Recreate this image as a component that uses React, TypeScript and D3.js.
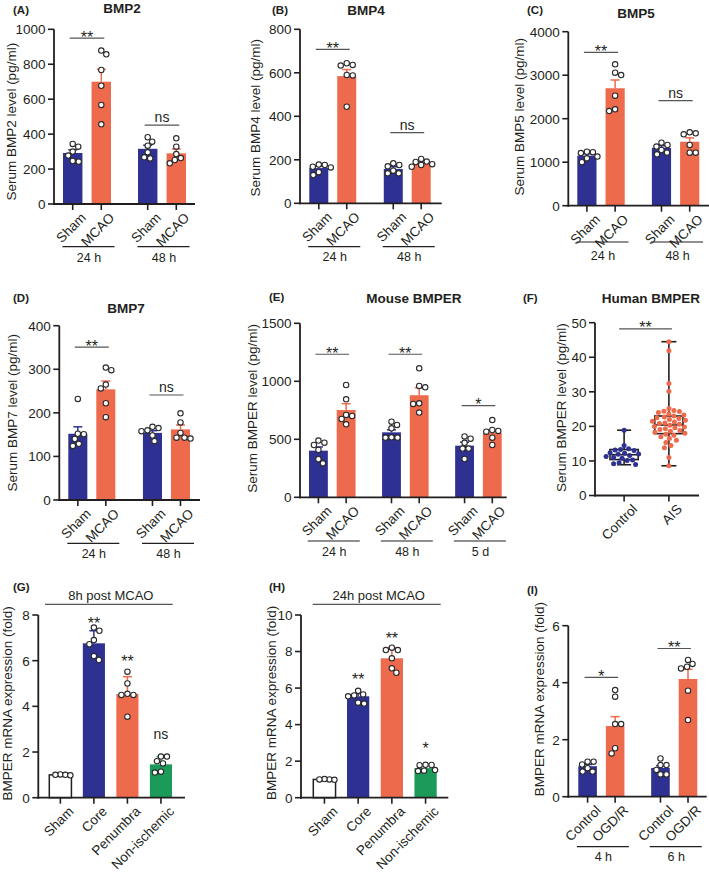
import React from "react";
import * as d3 from "d3";

const FONT = "'Liberation Sans', Arial, Helvetica, sans-serif";
const INK = "#231f20";
const BLUE = "#2e3192";
const ORANGE = "#ee6a4c";
const GREEN = "#1b9a5a";

// (A) BMP2 – Sham / MCAO at 24 h and 48 h
const bmp2Groups = ["24 h", "48 h"];
const bmp2Means = [292, 700, 316, 290];
const bmp2Err = [18, 71, 20, 25];
const bmp2Points = [
  [328, 344, 277, 242, 246, 300],
  [857, 878, 767, 677, 567, 456],
  [357, 382, 261, 296, 334, 267],
  [286, 376, 328, 233, 263, 252],
];
const bmp2Ticks = [0, 200, 400, 600, 800, 1000];
const bmp2Sig = [
  { from: 0, to: 1, y: 950, text: "**" },
  { from: 2, to: 3, y: 452, text: "ns" },
];

// (B) BMP4
const bmp4Groups = ["24 h", "48 h"];
const bmp4Means = [162, 585, 158, 182];
const bmp4Err = [9, 30, 10, 6];
const bmp4Points = [
  [130, 178, 176, 165, 143, 168],
  [644, 633, 636, 590, 588, 444],
  [138, 184, 176, 170, 150, 138],
  [176, 192, 190, 204, 168, 180],
];
const bmp4Ticks = [0, 200, 400, 600, 800];
const bmp4Sig = [
  { from: 0, to: 1, y: 708, text: "**" },
  { from: 2, to: 3, y: 325, text: "ns" },
];

// (C) BMP5
const bmp5Groups = ["24 h", "48 h"];
const bmp5Means = [1150, 2700, 1330, 1470];
const bmp5Err = [45, 190, 50, 90];
const bmp5Points = [
  [1240, 1230, 1210, 1000, 1130, 1090],
  [3057, 3249, 3004, 2529, 2176, 2215],
  [1395, 1448, 1360, 1180, 1280, 1220],
  [1686, 1640, 1663, 1395, 1218, 1218],
];
const bmp5Ticks = [0, 1000, 2000, 3000, 4000];
const bmp5Sig = [
  { from: 0, to: 1, y: 3526, text: "**" },
  { from: 2, to: 3, y: 2414, text: "ns" },
];

// (D) BMP7
const bmp7Groups = ["24 h", "48 h"];
const bmp7Means = [152, 254, 154, 162];
const bmp7Err = [16, 19, 5, 10];
const bmp7Points = [
  [232, 152, 140, 151, 124, 129],
  [298, 304, 265, 256, 222, 190],
  [165, 168, 160, 135, 148, 158],
  [199, 178, 141, 143, 143, 154],
];
const bmp7Ticks = [0, 100, 200, 300, 400];
const bmp7Sig = [
  { from: 0, to: 1, y: 351, text: "**" },
  { from: 2, to: 3, y: 241, text: "ns" },
];

// (E) Mouse BMPER
const mouseGroups = ["24 h", "48 h", "5 d"];
const mouseMeans = [402, 752, 560, 880, 445, 555];
const mouseErr = [32, 55, 22, 65, 30, 25];
const mousePoints = [
  [489, 451, 471, 408, 293, 328],
  [968, 845, 710, 701, 675, 629],
  [624, 595, 652, 517, 514, 514],
  [1112, 960, 948, 805, 810, 730],
  [505, 525, 470, 420, 330, 420],
  [666, 580, 572, 566, 514, 451],
];
const mouseTicks = [0, 500, 1000, 1500];
const mouseSig = [
  { from: 0, to: 1, y: 1233, text: "**" },
  { from: 2, to: 3, y: 1233, text: "**" },
  { from: 4, to: 5, y: 790, text: "*" },
];

// (F) Human BMPER – box plots
const humanCats = ["Control", "AIS"];
const controlPoints = [18.9, 14.5, 13.5, 13.3, 13.2, 13.0, 12.4, 12.2, 12.0, 11.9, 11.6, 11.3, 11.0, 10.8, 10.3, 10.1, 9.5, 9.2, 9.0];
const aisPoints = [
  44.5, 41.9, 32.4, 30.2, 25.2, 24.6, 24.4, 24.3, 24.0, 23.6, 23.3, 23.0, 22.7, 22.5,
  22.3, 22.0, 21.8, 21.5, 21.3, 21.0, 20.8, 20.6, 20.3, 20.0, 19.8, 19.6, 19.3, 19.1,
  18.8, 18.6, 18.3, 18.0, 17.7, 17.4, 17.0, 16.5, 16.0, 15.3, 14.5, 13.8, 11.0, 8.6,
];
const controlBox = { min: 8.9, q1: 10.4, med: 11.8, q3: 13.3, max: 18.9 };
const aisBox = { min: 8.6, q1: 17.9, med: 20.4, q3: 23.0, max: 44.5 };
const humanTicks = [0, 10, 20, 30, 40, 50];

// (G) 8h post MCAO
const regionCats = ["Sham", "Core", "Penumbra", "Non-ischemic"];
const g8Means = [1.0, 6.76, 4.54, 1.46];
const g8Err = [0.02, 0.55, 0.76, 0.34];
const g8Points = [
  [1.02, 1.0, 0.98, 1.0],
  [7.31, 7.45, 6.72, 6.9, 6.03, 6.2],
  [5.52, 5.0, 4.5, 4.5, 4.55, 3.55],
  [1.8, 1.8, 1.6, 1.5, 1.1, 1.14],
];
const g8Ticks = [0, 2, 4, 6, 8];
const g8Marks = [
  { bar: 1, y: 7.38, text: "**" },
  { bar: 2, y: 5.72, text: "**" },
  { bar: 3, y: 2.55, text: "ns" },
];

// (H) 24h post MCAO
const h24Means = [1.0, 5.55, 7.63, 1.62];
const h24Err = [0.02, 0.15, 0.58, 0.2];
const h24Points = [
  [1.0, 1.02, 0.98, 1.0],
  [5.65, 5.85, 5.6, 5.15, 5.55, 5.2],
  [8.21, 8.08, 8.08, 7.63, 6.84, 7.08],
  [1.79, 1.8, 1.78, 1.46, 1.48, 1.51],
];
const h24Ticks = [0, 2, 4, 6, 8, 10];
const h24Marks = [
  { bar: 1, y: 6.15, text: "**" },
  { bar: 2, y: 8.43, text: "**" },
  { bar: 3, y: 2.41, text: "*" },
];

// (I) OGD/R
const ogdGroups = ["4 h", "6 h"];
const ogdMeans = [1.07, 2.48, 1.01, 4.13];
const ogdErr = [0.06, 0.33, 0.08, 0.34];
const ogdPoints = [
  [1.23, 1.23, 1.13, 0.88, 1.0, 0.88],
  [3.74, 3.51, 2.55, 2.55, 1.7, 1.52],
  [1.34, 1.11, 1.11, 0.94, 0.78, 0.78],
  [4.8, 4.56, 4.5, 4.66, 3.72, 2.69],
];
const ogdTicks = [0, 2, 4, 6];
const ogdSig = [
  { from: 0, to: 1, y: 4.19, text: "*" },
  { from: 2, to: 3, y: 5.2, text: "**" },
];

// text sizes
const TICK = 13.5;
const ROT = 13.5;
const YLAB = 13.5;
const GLAB = 12.5;
const TITLE = 13.5;

type Bar = { name: string; mean: number; err: number; pts: number[]; fill: string };
type Group = { label: string | null; bars: Bar[] };

const paired = (labels: string[], names: string[], means: number[], err: number[], pts: number[][]): Group[] =>
  labels.map((label, gi) => ({
    label,
    bars: names.map((name, j) => ({
      name,
      mean: means[gi * 2 + j],
      err: err[gi * 2 + j],
      pts: pts[gi * 2 + j],
      fill: j === 0 ? BLUE : ORANGE,
    })),
  }));

const regionFills = ["#ffffff", BLUE, ORANGE, GREEN];
const single = (means: number[], err: number[], pts: number[][]): Group[] => [
  {
    label: null,
    bars: regionCats.map((name, i) => ({ name, mean: means[i], err: err[i], pts: pts[i], fill: regionFills[i] })),
  },
];

// simple deterministic beeswarm: nudge sideways until no overlap
function swarm(ys: number[], r: number, gap = 0.8): number[] {
  const order = ys.map((_, i) => i).sort((a, b) => ys[a] - ys[b]);
  const placed: { x: number; y: number }[] = [];
  const out = new Array(ys.length).fill(0);
  const d = 2 * r + gap;
  let flip = 1;
  for (const i of order) {
    let best = 0;
    for (let k = 0; k < 400; k++) {
      const cands = k === 0 ? [0] : [flip * k * 0.5, -flip * k * 0.5];
      const hit = cands.find((c) => placed.every((p) => Math.hypot(p.x - c, p.y - ys[i]) >= d));
      if (hit !== undefined) {
        best = hit;
        break;
      }
    }
    if (best !== 0) flip = -Math.sign(best);
    placed.push({ x: best, y: ys[i] });
    out[i] = best;
  }
  return out;
}

const YAxis = ({ y, ax, ticks, label, labelX, labelDy = 0 }: any) => {
  const [r0, r1] = y.range();
  return (
    <g>
      <line x1={ax} x2={ax} y1={r0 + 1} y2={r1} stroke={INK} strokeWidth={1.8} />
      {ticks.map((t: number) => (
        <g key={t}>
          <line x1={ax - 6} x2={ax} y1={y(t)} y2={y(t)} stroke={INK} strokeWidth={1.6} />
          <text x={ax - 8.5} y={y(t)} dy="0.36em" textAnchor="end" fontSize={TICK} fill={INK}>
            {t}
          </text>
        </g>
      ))}
      <text
        transform={`translate(${labelX},${(r0 + r1) / 2 + labelDy}) rotate(-90)`}
        textAnchor="middle"
        fontSize={YLAB}
        fill={INK}
      >
        {label}
      </text>
    </g>
  );
};

const RotLabel = ({ x, y0, text }: any) => (
  <text transform={`translate(${x + 14},${y0 + 14.5}) rotate(-45)`} textAnchor="end" fontSize={ROT} fill={INK}>
    {text}
  </text>
);

function BarPanel({ c }: any) {
  const y = d3.scaleLinear().domain([0, c.yMax]).range([c.y0, c.yTop]);
  const groups: Group[] = c.groups;
  const outer = d3
    .scaleBand<string>()
    .domain(groups.map((_, i) => String(i)))
    .range([c.barStart, c.barEnd])
    .paddingInner(c.groupPad)
    .paddingOuter(0);
  const flat: any[] = [];
  const groupSpans: any[] = [];
  groups.forEach((g, gi) => {
    const inner = d3
      .scaleBand<string>()
      .domain(g.bars.map((b) => b.name))
      .range([0, outer.bandwidth()])
      .paddingInner(c.barPad)
      .paddingOuter(0);
    const gx = outer(String(gi))!;
    groupSpans.push({ label: g.label, cx: gx + outer.bandwidth() / 2 });
    g.bars.forEach((b) => flat.push({ ...b, x: gx + inner(b.name)!, w: inner.bandwidth() }));
  });
  const r = 2.7;
  return (
    <g>
      <text x={c.letterX} y={c.letterY} fontSize={11.5} fontWeight="bold" fill={INK}>
        {c.letter}
      </text>
      {c.title && (
        <text x={c.titleX} y={c.titleY} fontSize={TITLE} fontWeight="bold" textAnchor="middle" fill={INK}>
          {c.title}
        </text>
      )}
      {c.header && (
        <g>
          <line x1={c.header.x1} x2={c.header.x2} y1={c.header.y} y2={c.header.y} stroke="#555" strokeWidth={1.2} />
          <text x={(c.header.x1 + c.header.x2) / 2 + 2} y={c.header.ty} fontSize={13} textAnchor="middle" fill={INK}>
            {c.header.text}
          </text>
        </g>
      )}
      {flat.map((b, i) => (
        <rect
          key={"b" + i}
          x={b.x}
          y={y(b.mean)}
          width={b.w}
          height={c.y0 - y(b.mean)}
          fill={b.fill}
          stroke={b.fill === "#ffffff" ? INK : "none"}
          strokeWidth={1.5}
        />
      ))}
      {flat.map((b, i) => {
        const cx = b.x + b.w / 2;
        const col = b.fill === "#ffffff" ? INK : b.fill;
        return (
          <g key={"e" + i} stroke={col} strokeWidth={1.5}>
            <line x1={cx} x2={cx} y1={y(b.mean)} y2={y(b.mean + b.err)} />
            <line x1={cx - 4.5} x2={cx + 4.5} y1={y(b.mean + b.err)} y2={y(b.mean + b.err)} />
          </g>
        );
      })}
      {flat.map((b, i) => {
        const ys = b.pts.map((v: number) => y(v));
        const off = swarm(ys, r, b.fill === "#ffffff" ? -0.8 : 0.6);
        const cx = b.x + b.w / 2;
        return (
          <g key={"p" + i}>
            {ys.map((py: number, k: number) => (
              <circle key={k} cx={cx + off[k]} cy={py} r={r} fill="#fff" stroke="#2a2a2a" strokeWidth={1.1} />
            ))}
          </g>
        );
      })}
      <YAxis y={y} ax={c.ax} ticks={c.ticks} label={c.yLabel} labelX={c.yLabelX} labelDy={c.yLabelDy || 0} />
      <line x1={c.ax - 0.9} x2={c.xEnd} y1={c.y0} y2={c.y0} stroke={INK} strokeWidth={1.8} />
      {flat.map((b, i) => {
        const cx = b.x + b.w / 2;
        return (
          <g key={"t" + i}>
            <line x1={cx} x2={cx} y1={c.y0} y2={c.y0 + 6} stroke={INK} strokeWidth={1.6} />
            <RotLabel x={cx} y0={c.y0} text={b.name} />
          </g>
        );
      })}
      {groupSpans
        .filter((g) => g.label)
        .map((g, i) => (
          <g key={"g" + i}>
            <line x1={g.cx + 1.5 - 26} x2={g.cx + 1.5 + 26} y1={c.lineY} y2={c.lineY} stroke={INK} strokeWidth={1.2} />
            <text x={g.cx + 2} y={c.labelY} fontSize={GLAB} textAnchor="middle" fill={INK}>
              {g.label}
            </text>
          </g>
        ))}
      {(c.sig || []).map((s: any, i: number) => {
        const a = flat[s.from];
        const bb = flat[s.to];
        const x1 = a.x + a.w / 2 - 3;
        const x2 = bb.x + bb.w / 2 + 3;
        const ly = y(s.y);
        const star = s.text !== "ns";
        return (
          <g key={"s" + i}>
            <line x1={x1} x2={x2} y1={ly} y2={ly} stroke="#555" strokeWidth={1.2} />
            <text
              x={(x1 + x2) / 2}
              y={star ? ly + 4.5 : ly - 3}
              fontSize={star ? 16 : 14}
              textAnchor="middle"
              fill={INK}
            >
              {s.text}
            </text>
          </g>
        );
      })}
      {(c.marks || []).map((m: any, i: number) => {
        const b = flat[m.bar];
        const star = m.text !== "ns";
        return (
          <text key={"m" + i} x={b.x + b.w / 2} y={y(m.y)} fontSize={star ? 16 : 14} textAnchor="middle" fill={INK}>
            {m.text}
          </text>
        );
      })}
    </g>
  );
}

function BoxPanel() {
  const y0 = 495.5;
  const y = d3.scaleLinear().domain([0, 50]).range([y0, 322.7]);
  const x = d3.scaleBand<string>().domain(humanCats).range([610, 683]).paddingInner(0.37).paddingOuter(0);
  const sets = [
    { cat: "Control", pts: controlPoints, box: controlBox, fill: BLUE, cap: 14 },
    { cat: "AIS", pts: aisPoints, box: aisBox, fill: ORANGE, cap: 15 },
  ];
  const r = 2.5;
  const ax = 595;
  const sl = 48.2;
  const sx1 = x.bandwidth() / 2 + x("Control")! - 5;
  const sx2 = x.bandwidth() / 2 + x("AIS")! + 3;
  return (
    <g>
      <text x={523} y={302} fontSize={11.5} fontWeight="bold" fill={INK}>
        (F)
      </text>
      <text x={651} y={303} fontSize={TITLE} fontWeight="bold" textAnchor="middle" fill={INK}>
        Human BMPER
      </text>
      {sets.map((s) => {
        const bx = x(s.cat)!;
        const bw = x.bandwidth();
        const cx = bx + bw / 2;
        const b = s.box;
        const ys = s.pts.map((v) => y(v));
        const off = swarm(ys, r, 0.3);
        return (
          <g key={s.cat}>
            <g stroke={INK} strokeWidth={1.6} fill="none">
              <line x1={cx} x2={cx} y1={y(b.min)} y2={y(b.q1)} />
              <line x1={cx} x2={cx} y1={y(b.q3)} y2={y(b.max)} />
              <line x1={cx - s.cap / 2} x2={cx + s.cap / 2} y1={y(b.min)} y2={y(b.min)} />
              <line x1={cx - s.cap / 2} x2={cx + s.cap / 2} y1={y(b.max)} y2={y(b.max)} />
              <rect x={bx} y={y(b.q3)} width={bw} height={y(b.q1) - y(b.q3)} fill="#fff" />
              <line x1={bx} x2={bx + bw} y1={y(b.med)} y2={y(b.med)} />
            </g>
            {ys.map((py, k) => (
              <circle key={k} cx={cx + off[k]} cy={py} r={r} fill={s.fill} />
            ))}
          </g>
        );
      })}
      <YAxis y={y} ax={ax} ticks={humanTicks} label="Serum BMPER level (pg/ml)" labelX={566} labelDy={-1.5} />
      <line x1={ax - 0.9} x2={699} y1={y0} y2={y0} stroke={INK} strokeWidth={1.8} />
      {humanCats.map((cat) => {
        const cx = x(cat)! + x.bandwidth() / 2;
        return (
          <g key={cat}>
            <line x1={cx} x2={cx} y1={y0} y2={y0 + 6} stroke={INK} strokeWidth={1.6} />
            <RotLabel x={cx} y0={y0} text={cat} />
          </g>
        );
      })}
      <line x1={sx1} x2={sx2} y1={y(sl)} y2={y(sl)} stroke="#555" strokeWidth={1.2} />
      <text x={(sx1 + sx2) / 2} y={y(sl) + 4.5} fontSize={16} textAnchor="middle" fill={INK}>
        **
      </text>
    </g>
  );
}

const panels = [
  {
    letter: "(A)", letterX: 13, letterY: 14, title: "BMP2", titleX: 122, titleY: 12.5,
    groups: paired(bmp2Groups, ["Sham", "MCAO"], bmp2Means, bmp2Err, bmp2Points),
    yMax: 1000, ticks: bmp2Ticks, sig: bmp2Sig, yLabel: "Serum BMP2 level (pg/ml)",
    ax: 54, y0: 204, yTop: 29.3, xEnd: 195, barStart: 63, barEnd: 186, groupPad: 0.36, barPad: 0.32,
    lineY: 246.7, labelY: 261.5, yLabelX: 16, yLabelDy: 5,
  },
  {
    letter: "(B)", letterX: 272, letterY: 14, title: "BMP4", titleX: 366, titleY: 15,
    groups: paired(bmp4Groups, ["Sham", "MCAO"], bmp4Means, bmp4Err, bmp4Points),
    yMax: 800, ticks: bmp4Ticks, sig: bmp4Sig, yLabel: "Serum BMP4 level (pg/ml)",
    ax: 300, y0: 203.3, yTop: 29.3, xEnd: 441.7, barStart: 309.3, barEnd: 430.7, groupPad: 0.37, barPad: 0.32,
    lineY: 246.7, labelY: 260.5, yLabelX: 260, yLabelDy: 1.5,
  },
  {
    letter: "(C)", letterX: 527, letterY: 14, title: "BMP5", titleX: 636, titleY: 18.3,
    groups: paired(bmp5Groups, ["Sham", "MCAO"], bmp5Means, bmp5Err, bmp5Points),
    yMax: 4000, ticks: bmp5Ticks, sig: bmp5Sig, yLabel: "Serum BMP5 level (pg/ml)",
    ax: 568.3, y0: 205.7, yTop: 31.7, xEnd: 712, barStart: 577.3, barEnd: 699.3, groupPad: 0.364, barPad: 0.32,
    lineY: 242, labelY: 259.5, yLabelX: 524, yLabelDy: -2,
  },
  {
    letter: "(D)", letterX: 13, letterY: 301.5, title: "BMP7", titleX: 126, titleY: 313,
    groups: paired(bmp7Groups, ["Sham", "MCAO"], bmp7Means, bmp7Err, bmp7Points),
    yMax: 400, ticks: bmp7Ticks, sig: bmp7Sig, yLabel: "Serum BMP7 level (pg/ml)",
    ax: 59.3, y0: 500, yTop: 325.7, xEnd: 200, barStart: 68.3, barEnd: 190, groupPad: 0.37, barPad: 0.32,
    lineY: 543.3, labelY: 558, yLabelX: 17,
  },
  {
    letter: "(E)", letterX: 269, letterY: 301, title: "Mouse BMPER", titleX: 414, titleY: 303,
    groups: paired(mouseGroups, ["Sham", "MCAO"], mouseMeans, mouseErr, mousePoints),
    yMax: 1500, ticks: mouseTicks, sig: mouseSig, yLabel: "Serum BMPER level (pg/ml)",
    ax: 300, y0: 497.3, yTop: 323.3, xEnd: 506.7, barStart: 309, barEnd: 501.7, groupPad: 0.363, barPad: 0.32,
    lineY: 541, labelY: 556, yLabelX: 257, yLabelDy: -2,
  },
  {
    letter: "(G)", letterX: 13, letterY: 590.5,
    header: { text: "8h post MCAO", x1: 45, x2: 172.7, y: 604.3, ty: 600 },
    groups: single(g8Means, g8Err, g8Points),
    yMax: 8, ticks: g8Ticks, marks: g8Marks, yLabel: "BMPER mRNA expression (fold)",
    ax: 38.3, y0: 797.7, yTop: 615, xEnd: 185, barStart: 49.3, barEnd: 172, groupPad: 0, barPad: 0.34,
    yLabelX: 12, yLabelDy: -3,
  },
  {
    letter: "(H)", letterX: 269, letterY: 590.5,
    header: { text: "24h post MCAO", x1: 312.7, x2: 440.7, y: 604.3, ty: 600 },
    groups: single(h24Means, h24Err, h24Points),
    yMax: 10, ticks: h24Ticks, marks: h24Marks, yLabel: "BMPER mRNA expression (fold)",
    ax: 301, y0: 797.7, yTop: 615, xEnd: 448.3, barStart: 313.3, barEnd: 436.7, groupPad: 0, barPad: 0.34,
    yLabelX: 276, yLabelDy: -3.5,
  },
  {
    letter: "(I)", letterX: 527, letterY: 594,
    groups: paired(ogdGroups, ["Control", "OGD/R"], ogdMeans, ogdErr, ogdPoints),
    yMax: 6, ticks: ogdTicks, sig: ogdSig, yLabel: "BMPER mRNA expression (fold)",
    ax: 568.3, y0: 796.7, yTop: 625.7, xEnd: 706.7, barStart: 578.3, barEnd: 697.3, groupPad: 0.367, barPad: 0.325,
    lineY: 846.7, labelY: 861, yLabelX: 544, yLabelDy: -12,
  },
];

export default function App() {
  return (
    <svg
      width={709}
      height={874}
      style={{ position: "absolute", left: 0, top: 0, background: "#fff", fontFamily: FONT }}
    >
      <rect width={709} height={874} fill="#fff" />
      {panels.map((c, i) => (
        <BarPanel key={i} c={c} />
      ))}
      <BoxPanel />
    </svg>
  );
}
